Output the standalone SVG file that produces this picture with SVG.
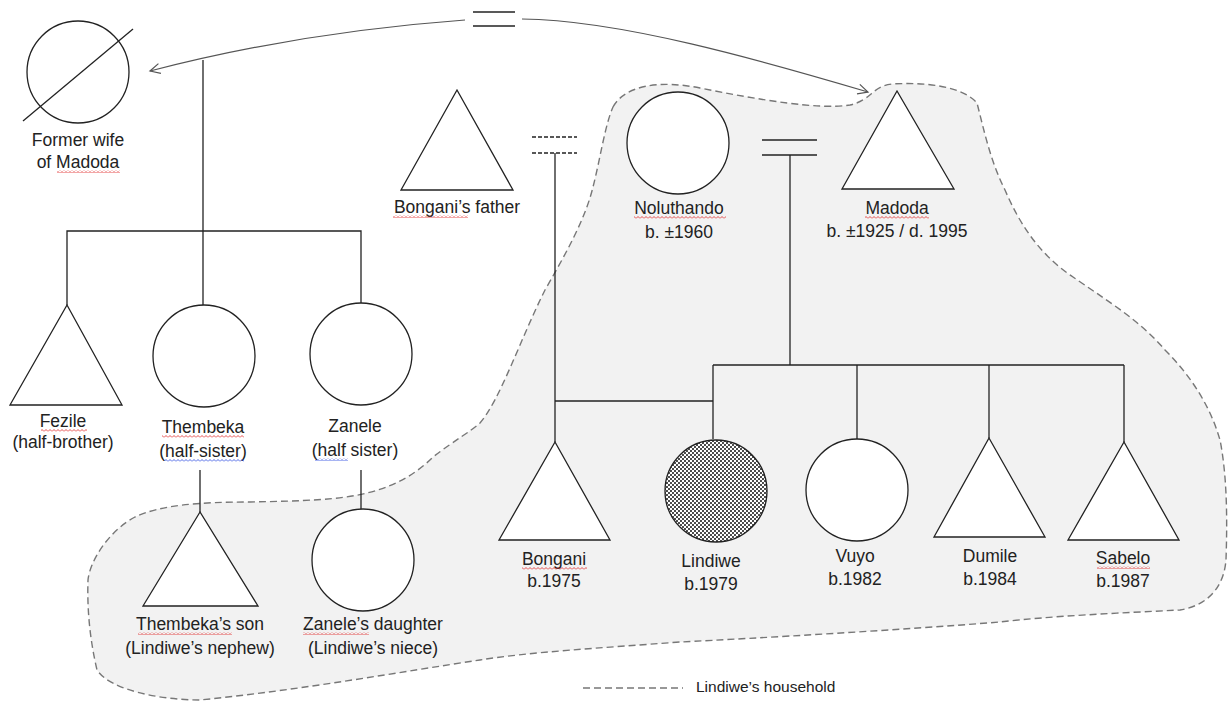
<svg xmlns="http://www.w3.org/2000/svg" width="1228" height="702" viewBox="0 0 1228 702">
<style>
.t{font-family:"Liberation Sans",Arial,sans-serif;font-size:17.5px;fill:#222;text-anchor:middle}
.s{fill:#fff;stroke:#222;stroke-width:1.3}
.ln{stroke:#222;stroke-width:1.3;fill:none}
.arc{stroke:#555;stroke-width:1.2;fill:none}
.hh{fill:#f2f2f2;stroke:#777;stroke-width:1.4;stroke-dasharray:7,4}
.red{fill:url(#sqr)}
.blue{fill:url(#sqb)}
</style>
<defs>
<marker id="ah" markerWidth="14" markerHeight="14" refX="11" refY="6" orient="auto" markerUnits="userSpaceOnUse">
<path d="M1,1 L11,6 L1,11" fill="none" stroke="#555" stroke-width="1.2"/>
</marker>
<pattern id="dots" width="4" height="4" patternUnits="userSpaceOnUse">
<rect width="4" height="4" fill="#fff"/>
<circle cx="1" cy="1" r="0.95" fill="#000"/>
<circle cx="3" cy="3" r="0.95" fill="#000"/>
</pattern>
<pattern id="sqr" width="4" height="3" patternUnits="userSpaceOnUse">
<path d="M0,2.5 L2,0.5 L4,2.5" fill="none" stroke="#e02020" stroke-width="0.8"/>
</pattern>
<pattern id="sqb" width="4" height="3" patternUnits="userSpaceOnUse">
<path d="M0,2.5 L2,0.5 L4,2.5" fill="none" stroke="#2040e0" stroke-width="0.8"/>
</pattern>
</defs>
<rect width="1228" height="702" fill="#fff"/>

<g id="household">
<path class="hh" d="M613,107 C625,85 660,80 700,88 C760,100 820,110 850,105 C872,100 872,86 892,84 C925,82 962,86 977,103 C984,130 990,160 1005,190 C1020,225 1040,255 1073,277 C1100,296 1140,320 1165,350 C1190,375 1210,405 1220,440 C1228,480 1227,530 1226,560 C1224,585 1210,605 1180,610 C1120,613 1050,616 1000,622 C900,630 760,638 680,642 C600,648 530,652 480,660 C400,672 300,690 200,700 C160,700 110,690 97,670 C90,640 87,610 88,580 C90,560 110,530 135,517 C160,505 200,502 250,502 C300,501 340,500 367,493 C400,485 420,470 433,457 C455,440 470,432 480,423 C500,400 520,340 545,290 C565,255 585,220 593,187 C600,160 605,125 613,107 Z"/>
</g>

<g id="connectors">
<path class="arc" d="M465,20 Q300,32 150,71" marker-end="url(#ah)"/>
<path class="arc" d="M522,19 C620,20 760,60 868,92" marker-end="url(#ah)"/>
<line class="ln" x1="473" y1="12" x2="515" y2="12"/>
<line class="ln" x1="473" y1="26" x2="515" y2="26"/>
<line class="ln" x1="203" y1="60" x2="203" y2="307"/>
<polyline class="ln" points="67,305 67,231 361,231 361,303"/>
<line class="ln" x1="200" y1="470" x2="200" y2="512"/>
<line class="ln" x1="361" y1="470" x2="361" y2="509"/>
<line class="ln" x1="532" y1="137" x2="577" y2="137" stroke-dasharray="4,2"/>
<line class="ln" x1="532" y1="153" x2="577" y2="153" stroke-dasharray="4,2"/>
<line class="ln" x1="555" y1="153" x2="555" y2="442"/>
<line class="ln" x1="555" y1="401" x2="713" y2="401"/>
<line class="ln" x1="762" y1="140" x2="817" y2="140"/>
<line class="ln" x1="762" y1="155" x2="817" y2="155"/>
<line class="ln" x1="790" y1="155" x2="790" y2="365"/>
<line class="ln" x1="713" y1="365" x2="1124" y2="365"/>
<line class="ln" x1="713" y1="365" x2="713" y2="439"/>
<line class="ln" x1="857" y1="365" x2="857" y2="439"/>
<line class="ln" x1="989" y1="365" x2="989" y2="438"/>
<line class="ln" x1="1124" y1="365" x2="1124" y2="442"/>
</g>

<g id="former-wife">
<circle class="s" cx="78" cy="72" r="51"/>
<line class="ln" x1="23" y1="121" x2="133" y2="29"/>
<text class="t" x="78" y="146">Former wife</text>
<text class="t" x="78" y="168">of Madoda</text>
<rect class="red" x="57" y="170" width="63" height="3"/>
</g>

<g id="bongani-father">
<polygon class="s" points="457,90 401,190 513,190"/>
<text class="t" x="457" y="213">Bongani’s father</text>
<rect class="red" x="393" y="215" width="75" height="3"/>
</g>

<g id="noluthando">
<circle class="s" cx="678" cy="143" r="51"/>
<text class="t" x="679" y="214">Noluthando</text>
<text class="t" x="679" y="238">b. ±1960</text>
<rect class="red" x="634" y="216" width="92" height="3"/>
</g>

<g id="madoda">
<polygon class="s" points="897,91 842,189 954,189"/>
<text class="t" x="897" y="214">Madoda</text>
<text class="t" x="897" y="237">b. ±1925 / d. 1995</text>
<rect class="red" x="865" y="216" width="64" height="3"/>
</g>

<g id="fezile">
<polygon class="s" points="67,305 10,405 122,405"/>
<text class="t" x="63" y="427">Fezile</text>
<text class="t" x="63" y="448">(half-brother)</text>
<rect class="red" x="41" y="429" width="46" height="3"/>
</g>

<g id="thembeka">
<circle class="s" cx="204" cy="356" r="51"/>
<text class="t" x="203" y="433">Thembeka</text>
<text class="t" x="203" y="457">(half-sister)</text>
<rect class="red" x="162" y="435" width="82" height="3"/>
<rect class="blue" x="165" y="459" width="79" height="3"/>
</g>

<g id="zanele">
<circle class="s" cx="361" cy="354" r="51"/>
<text class="t" x="355" y="432">Zanele</text>
<text class="t" x="355" y="456">(half sister)</text>
<rect class="blue" x="315" y="458" width="33" height="3"/>
</g>

<g id="thembeka-son">
<polygon class="s" points="200,512 143,606 258,606"/>
<text class="t" x="200" y="630">Thembeka’s son</text>
<text class="t" x="200" y="654">(Lindiwe’s nephew)</text>
<rect class="red" x="138" y="632" width="94" height="3"/>
</g>

<g id="zanele-daughter">
<circle class="s" cx="363" cy="560" r="51"/>
<text class="t" x="373" y="630">Zanele’s daughter</text>
<text class="t" x="373" y="654">(Lindiwe’s niece)</text>
<rect class="red" x="303" y="632" width="66" height="3"/>
</g>

<g id="bongani">
<polygon class="s" points="555,442 499,540 610,540"/>
<text class="t" x="554" y="565">Bongani</text>
<text class="t" x="554" y="587">b.1975</text>
<rect class="red" x="522" y="567" width="65" height="3"/>
</g>

<g id="lindiwe">
<circle cx="716" cy="491" r="51" fill="url(#dots)" stroke="#222" stroke-width="1.3"/>
<text class="t" x="711" y="567">Lindiwe</text>
<text class="t" x="711" y="590">b.1979</text>
</g>

<g id="vuyo">
<circle class="s" cx="857" cy="490" r="51"/>
<text class="t" x="855" y="562">Vuyo</text>
<text class="t" x="855" y="585">b.1982</text>
</g>

<g id="dumile">
<polygon class="s" points="989,438 934,537 1045,537"/>
<text class="t" x="990" y="562">Dumile</text>
<text class="t" x="990" y="585">b.1984</text>
</g>

<g id="sabelo">
<polygon class="s" points="1124,442 1068,540 1179,540"/>
<text class="t" x="1123" y="564">Sabelo</text>
<text class="t" x="1123" y="587">b.1987</text>
<rect class="red" x="1097" y="566" width="53" height="3"/>
</g>

<g id="legend">
<line x1="583" y1="688" x2="683" y2="688" stroke="#777" stroke-width="1.4" stroke-dasharray="7,4"/>
<text class="t" x="696" y="692" style="text-anchor:start;font-size:15.5px">Lindiwe’s household</text>
</g>
</svg>
